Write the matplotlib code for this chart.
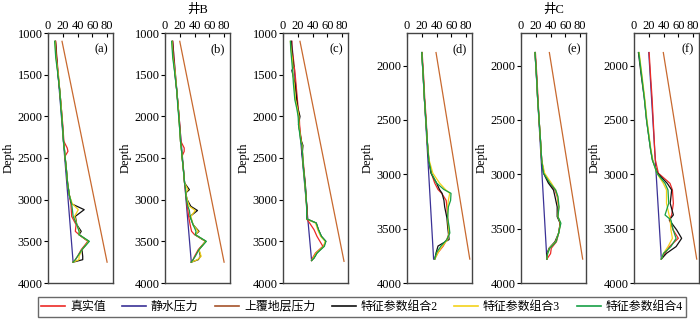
import matplotlib
matplotlib.use('Agg')
import matplotlib.pyplot as plt
from matplotlib.lines import Line2D

plt.rcParams['font.family'] = ['Liberation Serif', 'Noto Sans CJK SC']
plt.rcParams['font.size'] = 9

# ---- data (pressure MPa vs depth m) ----
# panel (a)
depth_a = [1100, 1300, 1500, 1700, 1900, 2100, 2300, 2380, 2420, 2480, 2600, 2800,
           2950, 3050, 3120, 3200, 3300, 3380, 3420, 3500, 3600, 3680, 3720, 3750]
real_a = [10.5, 12, 14, 16, 18, 20, 21.5, 26, 27, 23, 24.5, 26.5,
          29, 31, 31.5, 32, 38, 37, 42, 54, 45, 40, 37, 34]
combo2_a = [10, 11.5, 13.5, 16, 18, 19.5, 21, 22, 22.5, 23, 24.5, 26.5,
            29, 32, 49, 37, 39, 45, 42, 55, 46, 47, 47, 34]
combo3_a = [9.5, 11, 14, 16, 18, 19.5, 21, 22, 22.5, 23, 24.5, 26.5,
            29, 33, 41, 36, 39, 43, 42, 55, 46, 42, 42, 34]
combo4_a = [9, 10.5, 13.5, 16, 17.5, 19.5, 21, 22, 22.5, 23, 24.5, 26.5,
            29, 32, 33, 34, 39, 42, 42, 56, 46, 40, 37, 34]
hydro_a = [(1100, 3750), (10, 34)]
over_a = [(1100, 3750), (19, 80)]

# panel (b)
depth_b = [1100, 1300, 1500, 1700, 1900, 2100, 2300, 2380, 2420, 2480, 2600, 2800, 2880,
           2920, 3000, 3080, 3130, 3200, 3300, 3380, 3420, 3500, 3600, 3680, 3720, 3750]
real_b = [10.5, 12, 14, 16, 18, 20, 21.5, 26, 26, 23, 24.5, 26.5, 27.5,
          28, 29, 30, 31, 32, 34, 36, 40, 55, 45, 40, 38, 35.6]
combo2_b = [10, 11.5, 13.5, 16, 18, 19.5, 21, 22, 22.5, 23, 24.5, 26.5, 33,
            28, 30, 35, 44, 34, 38, 46, 41, 55, 46, 48, 45, 35.6]
combo3_b = [9.5, 11, 14, 16, 18, 19.5, 21, 22, 22.5, 23, 24.5, 26.5, 31,
            28, 30, 33, 41, 35, 38, 45, 41, 55, 46, 49, 44, 35.6]
combo4_b = [9, 10.5, 13.5, 16, 17.5, 19.5, 21, 22, 22.5, 23, 24.5, 26.5, 28,
            28, 29, 31, 33, 34, 38, 42, 41, 56, 46, 41, 38, 35.6]
hydro_b = [(1100, 3750), (10.4, 35.6)]
over_b = [(1100, 3750), (20, 80)]

# panel (c)
depth_c = [1100, 1200, 1300, 1400, 1450, 1600, 1800, 1900, 2000, 2100, 2200, 2300, 2350, 2450,
           2600, 2800, 2900, 3000, 3100, 3200, 3230, 3280, 3360, 3440, 3500, 3560, 3640, 3700, 3730]
real_c = [12, 12, 14, 15, 16, 17.5, 19.5, 20.5, 22, 22.5, 23.5, 25, 25.5, 26.5,
          28, 30, 30.5, 31.5, 32.5, 32.5, 32, 36, 42, 46, 50, 54, 44, 40, 38.7]
combo2_c = [11, 12, 13, 14.5, 12, 16, 18.5, 20, 23, 21, 23, 25, 27, 26,
            27.5, 30, 31, 31.5, 32.5, 32, 32, 45, 48, 52, 58, 55, 46, 42, 38.7]
combo3_c = [10, 11, 12.5, 13.5, 13, 15, 17, 19.5, 21.5, 21.5, 23, 24.5, 26, 26.5,
            27.5, 29.5, 30.5, 31.5, 32, 32, 32, 44, 47, 51, 57, 55, 45, 41, 38.7]
combo4_c = [10, 10.5, 11.5, 12.5, 13, 14, 16, 18.5, 20.5, 21, 22.5, 24, 25.5, 26.5,
            27.5, 29.5, 30.5, 31.5, 32, 32, 32, 45, 48, 52, 58, 56, 46, 42, 38.7]
hydro_c = [(1100, 3730), (11.7, 38.7)]
over_c = [(1100, 3740), (23, 82.6)]

# panel (d)
depth_d = [1880, 2100, 2300, 2500, 2700, 2870, 2990, 3080, 3140, 3175,
           3240, 3300, 3400, 3480, 3540, 3600, 3660, 3720, 3780]
real_d = [20.5, 22.5, 24, 26, 27.5, 29.5, 33, 37.5, 42, 47,
          53, 54, 55, 56, 57, 54, 49, 42, 37.5]
combo2_d = [20, 22, 23.5, 25.5, 27.5, 29.5, 32.5, 40, 44, 47.5,
            50, 51, 54, 55, 56, 57, 42, 39.5, 37.5]
combo3_d = [20, 22, 23.5, 25.5, 27.5, 30, 35, 44, 52, 57.8,
            56, 55, 55, 56, 57, 55, 48, 42, 37.5]
combo4_d = [20, 22, 23.5, 25.5, 27.5, 29.5, 33, 40, 50, 59.6,
            59, 56, 55, 57, 58, 54, 46, 40, 37.5]
hydro_d = [(1880, 3780), (20, 36)]
over_d = [(1880, 3780), (39.3, 85)]

# panel (e)
depth_e = [1880, 2100, 2300, 2500, 2700, 2870, 2990, 3080, 3145,
           3205, 3300, 3390, 3450, 3540, 3620, 3680, 3730, 3780]
real_e = [19.5, 21.5, 23, 24.5, 26.5, 28, 31, 38, 46, 49, 51, 50, 53, 51, 48, 41, 40, 35]
combo2_e = [19, 21, 22.5, 24.5, 26.5, 28, 30.5, 37, 44, 46, 49, 49, 53, 51, 46, 38, 35, 35]
combo3_e = [19, 21, 22.5, 24.5, 26.5, 28, 32, 41, 47, 49.5, 51, 50, 53.5, 51, 47, 38.5, 36, 35]
combo4_e = [19, 21, 22.5, 24.5, 26.5, 28, 30.5, 39, 47, 50, 51.5, 50, 54, 51, 47.5, 39, 36, 35]
hydro_e = [(1880, 3780), (19, 35)]
over_e = [(1880, 3780), (38.4, 83.5)]

# panel (f)
depth_f = [1880, 2100, 2300, 2500, 2700, 2776, 2870, 2990, 3083,
           3144, 3267, 3374, 3420, 3512, 3589, 3665, 3727, 3780]
real_f = [20.5, 22.5, 24.5, 26, 27.5, 28, 29, 33, 48.7, 52, 53.3, 51, 48, 53, 60, 48, 42, 37]
combo2_f = [6, 10, 14, 17, 21, 22.5, 25, 32, 45, 51, 49, 53.3, 47.8, 57.8, 64.5, 57, 44, 37]
combo3_f = [7, 11, 14.5, 17.5, 21.5, 23, 25.5, 31, 39.7, 44, 44, 47.5, 49, 50, 52, 46, 40, 37]
combo4_f = [6.5, 10.5, 14, 17, 21, 22.6, 25, 31, 42, 46, 47, 42, 50, 53, 57, 50, 40, 37]
hydro_f = [(1880, 3780), (20, 37)]
over_f = [(1880, 3780), (39.7, 84.9)]

panel_tags = ['(a)', '(b)', '(c)', '(d)', '(e)', '(f)']
well_titles = {1: '井B', 4: '井C'}
legend_labels = ['真实值', '静水压力', '上覆地层压力', '特征参数组合2', '特征参数组合3', '特征参数组合4']
x_ticks = [0, 20, 40, 60, 80]

colors = ['#ec2a26', '#3a3196', '#c8692f', '#111111', '#f3d21a', '#16a045']
legend_colors = ['#ec2a26', '#3a3196', '#a5532a', '#111111', '#f3d21a', '#16a045']

panels = [
    (depth_a, real_a, combo2_a, combo3_a, combo4_a, hydro_a, over_a),
    (depth_b, real_b, combo2_b, combo3_b, combo4_b, hydro_b, over_b),
    (depth_c, real_c, combo2_c, combo3_c, combo4_c, hydro_c, over_c),
    (depth_d, real_d, combo2_d, combo3_d, combo4_d, hydro_d, over_d),
    (depth_e, real_e, combo2_e, combo3_e, combo4_e, hydro_e, over_e),
    (depth_f, real_f, combo2_f, combo3_f, combo4_f, hydro_f, over_f),
]

fig = plt.figure(figsize=(7.0, 3.22), dpi=100)
lefts = [48, 165, 283, 407, 521, 634]
for i, (dep, real, c2, c3, c4, hyd, ovr) in enumerate(panels):
    ax = fig.add_axes([lefts[i] / 700, 39 / 322, 65 / 700, 250 / 322])
    ax.plot(hyd[1], hyd[0], color=colors[1], lw=0.9)
    ax.plot(ovr[1], ovr[0], color=colors[2], lw=0.9)
    ax.plot(real, dep, color=colors[0], lw=0.9)
    ax.plot(c2, dep, color=colors[3], lw=0.9)
    ax.plot(c3, dep, color=colors[4], lw=0.9)
    ax.plot(c4, dep, color=colors[5], lw=0.9)
    ax.set_xlim(0, 88)
    if i < 3:
        ax.set_ylim(4000, 1000)
        ax.set_yticks([1000, 1500, 2000, 2500, 3000, 3500, 4000])
    else:
        ax.set_ylim(4000, 1700)
        ax.set_yticks([2000, 2500, 3000, 3500, 4000])
    ax.set_xticks(x_ticks)
    ax.xaxis.tick_top()
    ax.tick_params(axis='x', direction='in', length=3, pad=1, labelsize=9)
    ax.tick_params(axis='y', direction='out', length=3, pad=1, labelsize=9)
    ax.set_ylabel('Depth', fontsize=9, labelpad=2)
    for s in ax.spines.values():
        s.set_color('#444444')
        s.set_linewidth(1.0)
    ax.text(0.92, 0.96, panel_tags[i], transform=ax.transAxes, ha='right', va='top', fontsize=9)
    if i in well_titles:
        ax.text(0.5, 1.07, well_titles[i], transform=ax.transAxes, ha='center', va='bottom', fontsize=9)

handles = [Line2D([0], [0], color=c, lw=1.2) for c in legend_colors]
fig.legend(handles, legend_labels, loc='center', bbox_to_anchor=(362 / 700, 15 / 322), ncol=6,
           frameon=True, fancybox=False, edgecolor='#444444', fontsize=8.6,
           handlelength=2.0, handletextpad=0.4, columnspacing=1.4, borderpad=0.3)

fig.savefig('out.png', dpi=100)
